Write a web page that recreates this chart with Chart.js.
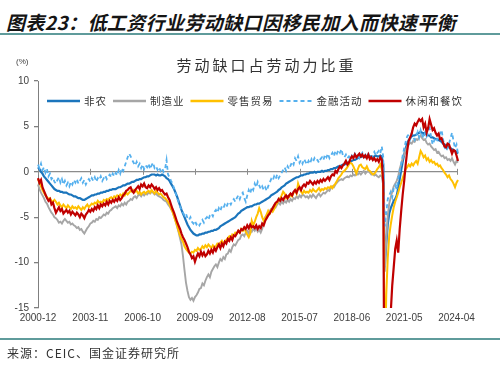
<!DOCTYPE html>
<html>
<head>
<meta charset="utf-8">
<script src="https://cdn.jsdelivr.net/npm/chart.js@4.4.1/dist/chart.umd.min.js"></script>
<style>
  html, body { margin: 0; padding: 0; background: #fff; }
  body { width: 500px; height: 369px; position: relative; overflow: hidden; }
  #chart { position: absolute; left: 0; top: 0; }
  #head {
    position: absolute; left: 6px; top: 12px;
    font: italic 700 19px/19px 'Noto Sans CJK SC', sans-serif;
    letter-spacing: 0.4px; color: #151515; white-space: nowrap;
  }
  .bar { position: absolute; left: 0; width: 500px; height: 2px; background: #5f9b9b; }
  #source {
    position: absolute; left: 7px; top: 347px;
    font: 12px/12px 'Noto Sans CJK SC', sans-serif;
    letter-spacing: 1px; color: #333; white-space: nowrap;
  }
</style>
</head>
<body>
<div id="head">图表23：低工资行业劳动缺口因移民加入而快速平衡</div>
<div class="bar" style="top:33px"></div>
<canvas id="chart" width="500" height="369"></canvas>
<div class="bar" style="top:338px"></div>
<div id="source">来源：CEIC、国金证券研究所</div>

<script>
// ── Data ──────────────────────────────────────
// monthly, 2000-12 .. 2024-05
const months = [];
for (let y = 2000, mo = 12; months.length < 282; ) {
  months.push(y + '-' + String(mo).padStart(2, '0'));
  mo++; if (mo > 12) { mo = 1; y++; }
}
const tickLabels = ['2000-12', '2003-11', '2006-10', '2009-09', '2012-08', '2015-07', '2018-06', '2021-05', '2024-04'];
const yTicks = [10, 5, 0, -5, -10, -15];

const nonfarm = [0.5,
  0.3, 0.0, -0.2, -0.5, -0.7, -0.9, -1.1, -1.3, -1.5, -1.7, -1.9, -2.0,
  -2.1, -2.1, -2.2, -2.2, -2.3, -2.3, -2.3, -2.4, -2.5, -2.5, -2.6, -2.7,
  -2.7, -2.8, -2.9, -2.9, -3.0, -3.1, -3.1, -3.0, -2.9, -2.8, -2.7, -2.6,
  -2.6, -2.5, -2.5, -2.4, -2.4, -2.3, -2.3, -2.2, -2.2, -2.1, -2.1, -2.0,
  -2.0, -1.9, -1.9, -1.9, -1.8, -1.7, -1.7, -1.6, -1.5, -1.5, -1.4, -1.3,
  -1.3, -1.2, -1.1, -1.1, -1.0, -0.9, -0.9, -0.8, -0.8, -0.7, -0.6, -0.6,
  -0.5, -0.5, -0.4, -0.3, -0.3, -0.3, -0.4, -0.3, -0.4, -0.4, -0.3, -0.4,
  -0.5, -0.7, -0.8, -1.0, -1.3, -1.6, -1.9, -2.3, -2.7, -3.2, -3.7, -4.2,
  -4.6, -5.0, -5.4, -5.8, -6.1, -6.4, -6.6, -6.8, -6.9, -7.0, -7.0, -6.9,
  -6.9, -6.8, -6.8, -6.7, -6.7, -6.6, -6.6, -6.5, -6.5, -6.4, -6.4, -6.3,
  -6.2, -6.0, -5.9, -5.8, -5.7, -5.6, -5.5, -5.4, -5.3, -5.2, -5.1, -5.0,
  -4.8, -4.6, -4.5, -4.3, -4.2, -4.1, -4.0, -3.9, -3.9, -3.8, -3.8, -3.7,
  -3.6, -3.6, -3.5, -3.5, -3.4, -3.3, -3.2, -3.1, -3.0, -2.9, -2.8, -2.6,
  -2.5, -2.4, -2.3, -2.2, -2.0, -1.9, -1.7, -1.6, -1.5, -1.3, -1.2, -1.1,
  -1.0, -0.9, -0.8, -0.7, -0.6, -0.6, -0.5, -0.4, -0.4, -0.3, -0.3, -0.2,
  -0.2, -0.1, -0.1, -0.1, 0.0, -0.1, 0.0, 0.0, 0.0, 0.1, 0.0, 0.1,
  0.1, 0.2, 0.2, 0.3, 0.3, 0.4, 0.4, 0.5, 0.6, 0.6, 0.7, 0.8,
  0.8, 0.9, 1.0, 1.0, 1.1, 1.2, 1.3, 1.3, 1.4, 1.5, 1.6, 1.6,
  1.7, 1.7, 1.6, 1.7, 1.8, 1.7, 1.7, 1.6, 1.7, 1.8, 1.7, 1.7,
  1.8, 1.7, 0.8, -10.5, -8.0, -5.8, -4.6, -4.0, -3.6, -3.2, -3.0, -2.6,
  -1.8, -0.8, 0.2, 1.1, 1.9, 2.6, 3.1, 3.5, 3.7, 3.9, 4.0, 4.0,
  4.1, 4.2, 4.3, 4.4, 4.3, 4.2, 4.3, 4.1, 4.0, 4.0, 3.8, 3.8,
  3.7, 3.6, 3.6, 3.5, 3.4, 3.3, 3.1, 3.0, 2.9, 2.8, 2.7, 2.6,
  2.5, 2.4, 2.3, 2.2, 2.0];

const manufacturing = [-1.4,
  -1.9, -2.3, -2.6, -2.9, -3.3, -3.5, -3.9, -4.2, -4.5, -4.7, -5.0, -5.1,
  -5.3, -5.6, -5.5, -5.7, -5.4, -5.2, -5.4, -5.6, -5.5, -5.8, -5.7, -5.9,
  -6.0, -6.2, -6.1, -6.4, -6.3, -6.6, -6.8, -6.5, -6.2, -6.0, -5.7, -5.6,
  -5.4, -5.5, -5.2, -5.3, -5.0, -5.1, -4.9, -4.7, -4.8, -4.5, -4.6, -4.3,
  -4.2, -4.0, -3.9, -3.8, -4.0, -3.7, -3.8, -3.5, -3.7, -3.4, -3.6, -3.3,
  -3.2, -3.0, -3.1, -2.8, -2.7, -2.9, -2.6, -2.5, -2.7, -2.4, -2.6, -2.4,
  -2.5, -2.3, -2.4, -2.2, -2.3, -2.5, -2.4, -2.6, -2.7, -2.8, -2.9, -3.1,
  -3.2, -3.3, -3.6, -3.8, -4.1, -4.4, -4.9, -5.4, -6.0, -6.6, -7.3, -8.0,
  -9.3, -10.8, -12.2, -13.1, -13.8, -14.1, -13.9, -14.2, -13.8, -13.6, -13.3, -12.9,
  -12.8, -12.3, -12.5, -12.0, -11.6, -11.3, -11.6, -11.0, -10.7, -10.4, -10.2, -10.5,
  -10.0, -9.6, -9.8, -9.4, -9.6, -9.1, -9.0, -8.6, -8.8, -8.3, -8.0, -8.1,
  -7.8, -7.5, -7.4, -7.0, -6.9, -7.1, -6.7, -6.5, -6.8, -6.4, -6.6, -6.3,
  -6.5, -6.2, -6.6, -6.4, -6.7, -6.3, -5.6, -5.0, -4.8, -4.5, -4.3, -4.1,
  -4.0, -3.7, -3.9, -3.6, -3.4, -3.6, -3.3, -3.5, -3.2, -3.4, -3.1, -3.3,
  -3.0, -3.2, -2.9, -3.0, -2.7, -2.9, -2.6, -2.8, -2.5, -2.6, -2.8, -2.7,
  -2.9, -2.6, -2.8, -2.5, -2.7, -2.9, -2.6, -2.4, -2.7, -2.5, -2.3, -2.4,
  -2.2, -2.0, -2.1, -1.8, -1.6, -1.7, -1.4, -1.2, -1.0, -0.9, -0.8, -0.9,
  -0.7, -0.6, -0.5, -0.6, -0.4, -0.5, -0.3, -0.4, -0.2, -0.3, -0.1, -0.3,
  -0.1, 0.1, -0.2, 0.0, 0.1, -0.1, -0.3, -0.2, -0.4, -0.3, -0.5, -0.6,
  -0.4, -0.5, -1.5, -11.0, -7.5, -4.8, -3.5, -2.8, -2.2, -1.6, -1.3, -1.0,
  -0.5, 0.3, 0.9, 1.5, 1.9, 2.4, 2.8, 3.0, 3.2, 3.1, 3.4, 3.3,
  3.6, 3.5, 3.8, 4.0, 3.7, 3.5, 3.6, 3.2, 3.0, 3.1, 2.8, 2.6,
  2.4, 2.5, 2.1, 2.2, 1.9, 1.7, 1.8, 1.5, 1.6, 1.3, 1.4, 1.2,
  1.5, 1.1, 0.8, 1.2, 1.0];

const retail = [-0.8,
  -1.2, -1.6, -2.0, -2.3, -2.6, -2.8, -3.0, -2.9, -3.2, -3.3, -3.1, -3.3,
  -3.6, -3.4, -3.7, -3.9, -3.6, -3.8, -4.0, -3.7, -3.9, -4.1, -3.8, -4.0,
  -3.9, -4.1, -3.8, -4.0, -4.2, -3.9, -4.1, -3.8, -3.6, -3.9, -3.7, -3.5,
  -3.6, -3.4, -3.5, -3.2, -3.4, -3.3, -3.4, -3.1, -3.2, -3.0, -3.1, -2.9,
  -2.8, -3.0, -2.7, -2.8, -2.6, -2.7, -2.5, -2.7, -2.4, -2.6, -2.3, -2.5,
  -2.3, -2.1, -2.2, -2.0, -2.2, -2.1, -2.4, -2.2, -2.5, -2.3, -2.2, -2.4,
  -2.2, -2.1, -2.3, -2.0, -2.2, -2.4, -2.1, -2.3, -2.5, -2.4, -2.6, -2.8,
  -2.9, -3.1, -3.3, -3.6, -4.0, -4.4, -4.9, -5.4, -5.9, -6.5, -7.0, -7.4,
  -7.7, -8.2, -8.5, -8.7, -8.9, -9.0, -8.8, -8.9, -8.6, -8.7, -8.4, -8.6,
  -8.5, -8.2, -8.4, -8.1, -8.3, -8.0, -8.2, -8.4, -8.1, -8.3, -8.2, -7.9,
  -8.0, -7.8, -7.6, -7.9, -7.7, -7.5, -7.3, -7.1, -7.3, -6.9, -7.0, -6.7,
  -6.8, -6.5, -6.7, -6.3, -6.5, -6.2, -6.6, -6.9, -7.2, -6.8, -5.4, -5.9,
  -5.5, -5.0, -4.6, -4.0, -4.4, -5.0, -5.4, -5.1, -4.7, -4.3, -4.6, -4.2,
  -4.4, -4.1, -3.7, -3.4, -3.1, -2.9, -2.6, -2.2, -2.4, -2.9, -2.7, -2.8,
  -2.5, -2.7, -2.3, -2.1, -2.4, -1.3, -1.8, -2.2, -2.4, -2.1, -2.3, -2.2,
  -2.3, -2.0, -2.2, -1.9, -2.1, -2.2, -2.0, -1.8, -2.1, -1.9, -2.0, -1.8,
  -1.9, -1.7, -1.8, -1.6, -1.8, -1.5, -1.3, -1.0, -0.7, -0.5, -0.3, 0.0,
  0.1, 0.3, 0.5, 0.8, 1.0, 0.9, 0.6, 0.2, -0.2, 0.3, 0.7, 0.8,
  0.5, 0.4, 0.3, 0.6, 0.2, 0.1, -0.1, -0.3, -0.2, 0.0, 0.3, 0.5,
  0.8, 0.3, -1.0, -22.0, -13.5, -9.5, -7.0, -5.8, -4.8, -3.9, -3.3, -2.8,
  -2.3, -1.7, -1.2, -0.7, -0.2, 0.3, 0.5, 0.8, 0.6, 0.9, 0.7, 1.0,
  1.2, 0.9, 1.6, 2.3, 2.0, 1.6, 1.8, 1.3, 1.5, 1.1, 1.3, 1.0,
  1.1, 0.8, 0.9, 0.6, 0.7, 0.4, 0.2, -0.1, -0.3, -0.6, -0.4, -0.8,
  -1.0, -1.3, -1.7, -1.2, -0.9];

const financial = [0.8,
  0.4, 0.9, 0.2, 0.5, -0.1, 0.3, -0.5, -0.2, -0.8, -0.6, -1.1, -1.3,
  -0.9, -0.6, -1.2, -0.8, -1.4, -1.0, -1.5, -1.2, -1.6, -1.1, -1.4, -0.9,
  -1.2, -0.8, -1.3, -1.0, -0.7, -1.2, -0.9, -1.4, -1.0, -0.8, -1.1, -0.7,
  -1.0, -0.6, -1.1, -0.7, -0.9, -0.5, -1.0, -0.7, -0.4, -0.8, -0.5, -0.3,
  -0.6, -0.2, -0.5, -0.1, -0.4, 0.2, -0.2, 0.4, 0.1, 0.6, 1.1, 1.6,
  2.0, 1.7, 1.3, 1.0, 0.7, 1.1, 0.6, 0.9, 0.4, 0.8, 0.3, 0.7,
  0.5, 0.9, 0.3, 0.7, 1.0, 0.4, 0.6, 0.2, 0.5, 0.1, 0.4, 0.0,
  0.3, 1.3, -0.3, -0.6, -1.0, -1.3, -1.8, -2.3, -2.9, -3.3, -3.8, -4.2,
  -4.5, -4.8, -4.6, -5.1, -5.3, -5.0, -5.5, -5.7, -5.4, -5.8, -5.6, -5.9,
  -5.6, -5.3, -5.6, -5.2, -5.0, -5.3, -4.8, -4.6, -4.9, -4.4, -4.2, -4.5,
  -4.0, -4.3, -3.8, -4.0, -3.6, -3.9, -3.5, -3.3, -3.6, -3.2, -3.0, -3.3,
  -2.9, -2.6, -3.0, -2.5, -2.3, -2.9, -3.3, -2.6, -2.0, -2.4, -1.7, -2.0,
  -1.3, -1.7, -1.1, -1.5, -1.9, -1.6, -2.0, -1.7, -2.1, -1.6, -1.2, -0.8,
  -1.0, -0.5, -0.8, -0.3, -0.7, -0.4, -0.1, 0.2, 0.5, 0.1, 0.6, 0.3,
  0.7, 1.1, 0.8, 1.5, 1.2, 1.7, 1.0, 1.3, 0.9, 1.4, 1.1, 0.8,
  1.2, 0.9, 1.4, 1.1, 1.5, 1.2, 1.3, 1.0, 1.4, 1.6, 1.3, 1.9,
  1.6, 2.0, 1.5, 1.8, 2.1, 1.7, 2.3, 2.0, 2.4, 2.1, 2.5, 1.8,
  1.6, 1.9, 1.5, 1.7, 1.4, 1.8, 1.6, 2.0, 1.7, 1.9, 1.5, 1.8,
  2.1, 1.7, 1.9, 1.6, 2.0, 1.8, 1.5, 1.9, 2.2, 1.8, 2.1, 2.3,
  2.0, 2.8, 1.6, -6.0, -4.5, -3.0, -2.6, -2.2, -2.8, -1.8, -1.5, -1.9,
  -0.8, 0.0, 0.9, 1.8, 2.6, 3.3, 3.9, 4.1, 3.6, 4.3, 3.8, 3.5,
  4.0, 4.4, 3.8, 4.6, 4.1, 3.7, 4.3, 3.9, 4.5, 4.8, 3.9, 3.0,
  3.4, 3.8, 3.5, 3.9, 4.2, 4.6, 3.6, 2.7, 2.3, 2.6, 3.1, 3.7,
  4.3, 3.4, 2.6, 3.0, 2.0];

const leisure = [-0.7,
  -1.2, -0.9, -1.7, -2.1, -2.5, -2.9, -3.2, -3.0, -3.6, -3.4, -4.0, -4.5,
  -4.2, -3.9, -4.3, -4.1, -4.6, -4.4, -4.2, -4.5, -4.3, -4.7, -4.4, -4.6,
  -4.8, -4.5, -4.7, -5.0, -4.6, -4.8, -5.1, -4.7, -4.5, -4.2, -4.4, -4.1,
  -4.3, -3.9, -4.1, -3.7, -4.0, -3.6, -3.8, -3.5, -3.7, -3.3, -3.6, -3.2,
  -3.4, -3.1, -3.3, -3.0, -3.2, -2.8, -3.1, -2.9, -2.6, -2.4, -2.1, -2.0,
  -1.8, -1.7, -2.1, -2.3, -2.0, -1.8, -1.6, -1.9, -1.4, -1.6, -1.3, -1.7,
  -1.8, -1.5, -1.7, -1.4, -1.6, -1.9, -1.7, -2.0, -1.8, -2.1, -2.0, -2.3,
  -2.5, -2.4, -2.8, -3.1, -3.6, -4.1, -4.5, -5.0, -5.5, -5.9, -6.3, -6.8,
  -7.2, -7.5, -7.9, -8.3, -8.8, -9.1, -9.5, -9.3, -9.9, -9.4, -9.0, -9.3,
  -8.8, -9.2, -8.9, -9.3, -9.1, -8.7, -9.0, -8.6, -8.9, -8.4, -8.7, -8.3,
  -8.0, -8.4, -7.9, -8.2, -7.7, -7.9, -7.4, -7.6, -7.2, -7.5, -7.0, -7.1,
  -6.8, -6.5, -6.7, -6.3, -6.4, -6.1, -6.3, -5.9, -6.2, -5.8, -6.1, -6.0,
  -6.2, -5.9, -6.3, -6.0, -6.2, -5.7, -5.9, -5.4, -5.1, -4.8, -4.6, -4.3,
  -4.0, -3.7, -3.4, -3.3, -3.0, -3.2, -2.9, -3.1, -2.8, -2.6, -2.9, -2.6,
  -2.4, -2.6, -2.2, -2.0, -2.3, -1.9, -1.7, -2.0, -1.6, -1.4, -1.6, -1.2,
  -1.3, -1.0, -1.2, -1.4, -1.1, -1.3, -1.0, -1.2, -0.9, -1.1, -0.8, -1.0,
  -0.8, -0.6, -0.9, -0.5, -0.3, -0.4, 0.1, -0.1, 0.3, 0.6, 0.4, 0.7,
  0.9, 1.2, 0.8, 1.0, 1.4, 1.7, 1.5, 1.9, 1.6, 1.8, 2.0, 1.7,
  1.9, 1.6, 1.8, 1.5, 1.9, 1.4, 1.6, 1.3, 1.5, 1.2, 1.4, 1.1,
  1.6, 1.3, -1.2, -35.0, -29.0, -22.0, -19.0, -15.5, -12.5, -10.5, -8.5, -7.6,
  -8.9, -6.3, -4.3, -2.5, -1.0, 0.8, 2.3, 3.4, 3.8, 4.2, 4.9, 5.3,
  5.1, 5.5, 5.8, 5.6, 5.8, 4.9, 5.3, 4.3, 4.8, 5.8, 5.2, 4.6,
  4.8, 4.3, 4.0, 4.2, 3.6, 3.7, 3.2, 2.8, 2.7, 3.1, 3.0, 2.5,
  2.0, 2.4, 2.3, 1.8, 1.2];

// ── Extra drawing: title, unit, legend, zero-line ticks ──
const decor = {
  id: 'decor',
  beforeDatasetsDraw(chart) {
    const { ctx, scales: { x, y } } = chart;
    const y0 = y.getPixelForValue(0);
    ctx.save();
    ctx.strokeStyle = '#8c8c8c';
    ctx.lineWidth = 1;
    months.forEach((m, i) => {
      if (!tickLabels.includes(m)) return;
      const px = Math.round(x.getPixelForValue(i)) + 0.5;
      ctx.beginPath();
      ctx.moveTo(px, y0 - 3);
      ctx.lineTo(px, y0 + 3);
      ctx.stroke();
    });
    ctx.restore();
  },
  afterDraw(chart) {
    const ctx = chart.ctx;
    ctx.save();
    ctx.textBaseline = 'middle';
    ctx.fillStyle = '#333';

    // chart title
    const title = '劳动缺口占劳动力比重';
    ctx.font = "15px 'Noto Sans CJK SC'";
    ctx.letterSpacing = '3px';
    const tw = ctx.measureText(title).width - 3;
    ctx.fillText(title, 265 - tw / 2, 65);

    // unit
    ctx.letterSpacing = '0px';
    ctx.font = "8px 'Liberation Sans'";
    ctx.fillStyle = '#404040';
    ctx.fillText('(%)', 16, 62);

    // legend (inside the plot)
    ctx.font = "10.5px 'Noto Sans CJK SC'";
    ctx.letterSpacing = '1px';
    let lx = 47;
    const ly = 101;
    chart.data.datasets.forEach(ds => {
      ctx.strokeStyle = ds.borderColor;
      ctx.lineWidth = ds.borderWidth + 0.4;
      ctx.setLineDash(ds.borderDash || []);
      ctx.beginPath();
      ctx.moveTo(lx, ly);
      ctx.lineTo(lx + 33, ly);
      ctx.stroke();
      ctx.setLineDash([]);
      ctx.fillStyle = '#333';
      ctx.fillText(ds.label, lx + 37, ly);
      lx += 37 + ctx.measureText(ds.label).width + 6;
    });
    ctx.restore();
  }
};

// ── Chart ─────────────────────────────────────
const line = (label, data, color, width, order, dash) => ({
  label, data, order,
  borderColor: color,
  backgroundColor: color,
  borderWidth: width,
  borderDash: dash || [],
  pointRadius: 0,
  tension: 0,
  fill: false
});

new Chart(document.getElementById('chart'), {
  type: 'line',
  data: {
    labels: months,
    datasets: [
      line('非农', nonfarm, '#1b75bc', 2.2, 5),
      line('制造业', manufacturing, '#a6a6a6', 1.9, 4),
      line('零售贸易', retail, '#ffc000', 2, 3),
      line('金融活动', financial, '#55b0ee', 1.8, 2, [4, 3]),
      line('休闲和餐饮', leisure, '#c00000', 2.2, 1)
    ]
  },
  options: {
    responsive: false,
    animation: false,
    devicePixelRatio: 1,
    layout: { padding: { left: 0, top: 81, right: 42, bottom: 39 } },
    plugins: { legend: { display: false }, title: { display: false }, tooltip: { enabled: false } },
    scales: {
      x: {
        type: 'category',
        grid: { display: false, drawTicks: false },
        border: { display: false },
        afterFit: s => { s.height = 22; },
        ticks: {
          autoSkip: false,
          maxRotation: 0,
          padding: 4,
          color: '#404040',
          font: { family: "'Liberation Sans', Arial", size: 10 },
          callback: (v, i) => tickLabels.includes(months[i]) ? months[i] : null
        }
      },
      y: {
        min: -15,
        max: 10,
        afterFit: s => { s.width = 38; },
        afterBuildTicks: s => { s.ticks = yTicks.map(v => ({ value: v })); },
        border: { display: true, color: '#7f7f7f', width: 1 },
        grid: {
          drawOnChartArea: true,
          color: c => c.tick && c.tick.value === 0 ? '#8c8c8c' : 'rgba(0,0,0,0)',
          lineWidth: 1.3,
          tickColor: '#7f7f7f',
          tickLength: 4
        },
        ticks: {
          padding: 5,
          color: '#404040',
          font: { family: "'Liberation Sans', Arial", size: 10 }
        }
      }
    }
  },
  plugins: [decor]
});
</script>
</body>
</html>
